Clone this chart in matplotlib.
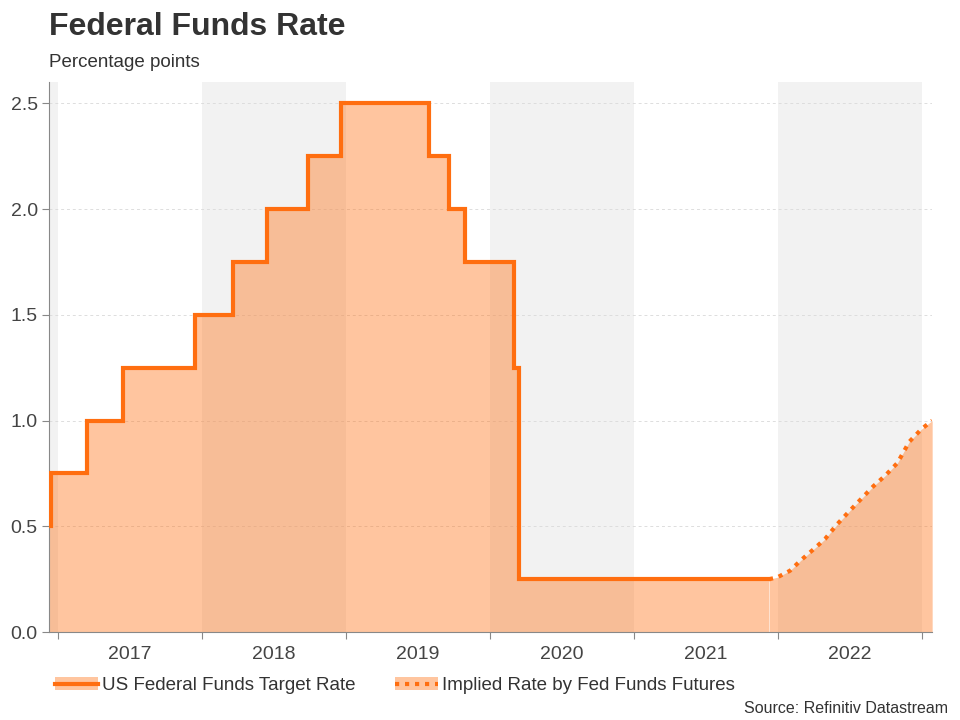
import matplotlib
matplotlib.use("Agg")
import matplotlib.pyplot as plt
import matplotlib.dates as mdates
from matplotlib.lines import Line2D
from matplotlib.patches import Patch
from datetime import datetime

plt.rcParams['font.family'] = ['Liberation Sans', 'DejaVu Sans']

# Target rate (upper bound), change dates and values
target_dates = ["2016-12-09", "2016-12-15", "2017-03-16", "2017-06-15", "2017-12-14",
                "2018-03-22", "2018-06-14", "2018-09-27", "2018-12-20", "2019-08-01",
                "2019-09-19", "2019-10-31", "2020-03-04", "2020-03-16", "2021-12-10"]
target_values = [0.50, 0.75, 1.00, 1.25, 1.50, 1.75, 2.00, 2.25, 2.50, 2.25,
                 2.00, 1.75, 1.25, 0.25, 0.25]

# Implied rate by Fed funds futures
implied_dates = ["2021-12-10", "2022-01-01", "2022-02-01", "2022-03-01", "2022-04-01",
                 "2022-05-01", "2022-06-01", "2022-07-01", "2022-08-01", "2022-09-01",
                 "2022-10-01", "2022-11-01", "2022-12-01", "2023-01-01", "2023-01-28"]
implied_values = [0.25, 0.26, 0.29, 0.34, 0.39, 0.44, 0.51, 0.57, 0.63, 0.69,
                  0.74, 0.80, 0.90, 0.96, 1.00]

years = [2017, 2018, 2019, 2020, 2021, 2022]
shaded_years = [2016, 2018, 2020, 2022]

line_c = '#FF6E10'
fill_c = '#FF6E10'
dot_style = (0, (1, 1.4))

td = [datetime.fromisoformat(d) for d in target_dates]
idt = [datetime.fromisoformat(d) for d in implied_dates]

fig = plt.figure(figsize=(9.6, 7.2), dpi=100)
ax = fig.add_axes([0.051, 0.122, 0.92, 0.764])

x0 = datetime(2016, 12, 9)
x1 = datetime(2023, 1, 28)
ax.set_xlim(x0, x1)
ax.set_ylim(0, 2.6)

for y in shaded_years:
    a = max(datetime(y, 1, 1), x0)
    b = min(datetime(y + 1, 1, 1), x1)
    ax.axvspan(a, b, color='#F2F2F2', zorder=0, lw=0)

# fill
ax.fill_between(td, target_values, 0, step='post', color=fill_c, alpha=0.4, lw=0, zorder=1)
ax.fill_between(idt, implied_values, 0, color=fill_c, alpha=0.4, lw=0, zorder=1)

ax.plot(td, target_values, drawstyle='steps-post', color=line_c, lw=3, zorder=3,
        solid_joinstyle='miter')
ax.plot(idt, implied_values, color=line_c, lw=3, ls=dot_style, zorder=3,
        dash_capstyle='butt')

ax.yaxis.grid(True, color='#DDDDDD', ls=(0, (3, 3)), lw=0.7)
ax.set_axisbelow(True)
ax.set_yticks([0, 0.5, 1.0, 1.5, 2.0, 2.5])
ax.set_yticklabels(['0.0', '0.5', '1.0', '1.5', '2.0', '2.5'])

ax.set_xticks([mdates.date2num(datetime(y, 1, 1)) for y in years + [2023]])
ax.set_xticklabels([])
ax.set_xticks([mdates.date2num(datetime(y, 7, 2)) for y in years], minor=True)
ax.set_xticklabels([str(y) for y in years], minor=True)
ax.tick_params(axis='x', which='major', length=5, color='#888888')
ax.tick_params(axis='x', which='minor', length=0, pad=10, labelsize=14, labelcolor='#444444')
ax.tick_params(axis='y', length=5, color='#888888', labelsize=14, labelcolor='#444444', pad=3)

for s in ['top', 'right']:
    ax.spines[s].set_visible(False)
for s in ['left', 'bottom']:
    ax.spines[s].set_color('#888888')

fig.text(0.051, 0.942, 'Federal Funds Rate', fontsize=23, fontweight='bold', color='#333333', va='bottom')
fig.text(0.051, 0.902, 'Percentage points', fontsize=13.5, color='#333333', va='bottom')
fig.text(0.988, 0.005, 'Source: Refinitiv Datastream', fontsize=11.5, color='#333333', ha='right', va='bottom')

h1 = (Patch(color=fill_c, alpha=0.4, lw=0), Line2D([], [], color=line_c, lw=3))
h2 = (Patch(color=fill_c, alpha=0.4, lw=0), Line2D([], [], color=line_c, lw=3, ls=dot_style))
fig.legend([h1, h2], ['US Federal Funds Target Rate', 'Implied Rate by Fed Funds Futures'],
           loc='lower left', bbox_to_anchor=(0.040, 0.012), ncol=2, frameon=False,
           fontsize=13.5, handlelength=2.3, columnspacing=2.1, handletextpad=0.2,
           labelcolor='#333333')

fig.savefig('out.png', dpi=100)
